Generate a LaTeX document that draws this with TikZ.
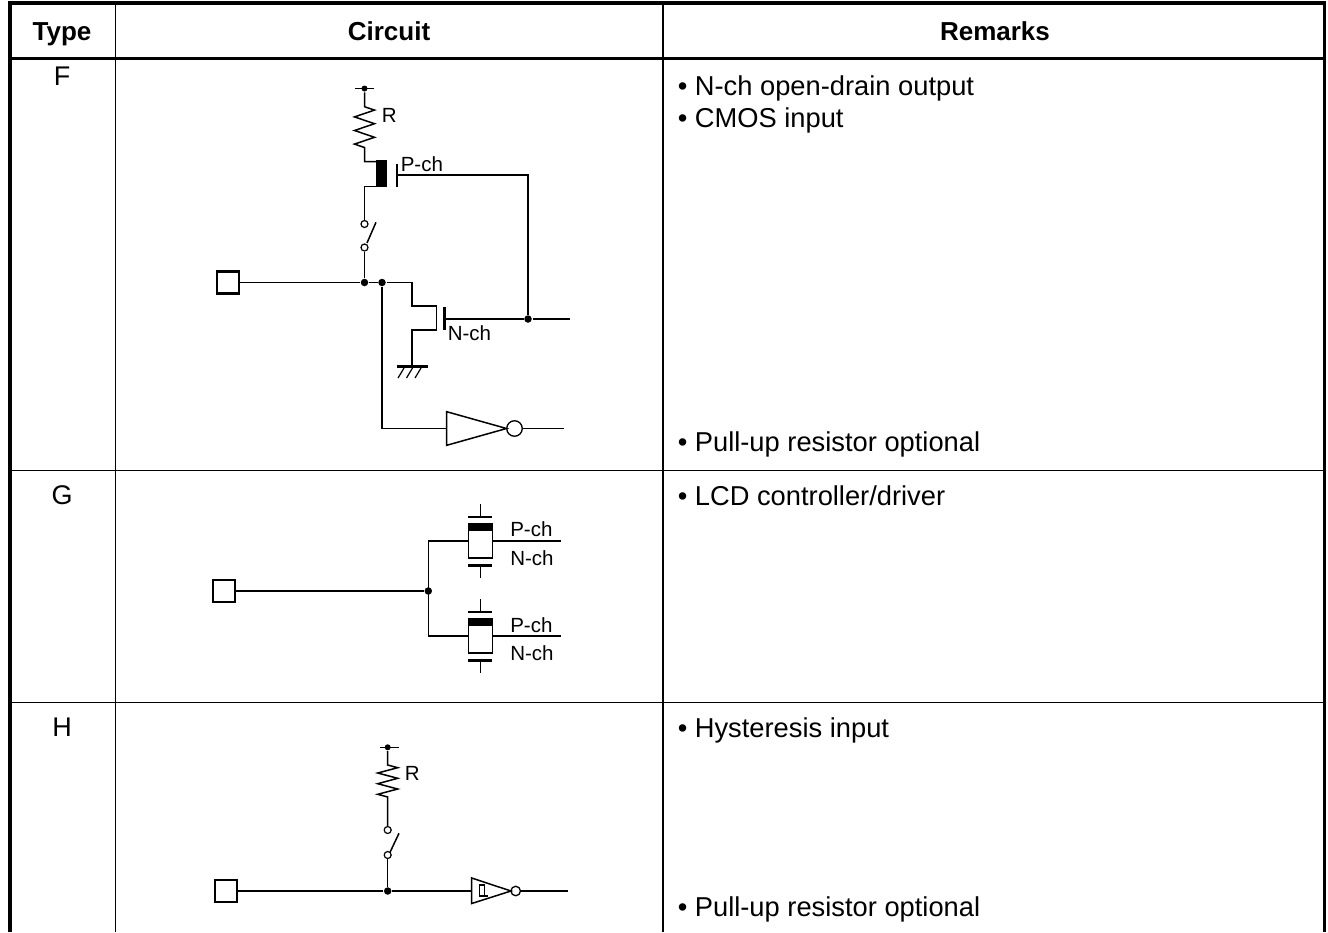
\documentclass[tikz,border=0pt]{standalone}
\usepackage{fontspec}
\setmainfont{Liberation Sans}
\begin{document}
\begin{tikzpicture}[x=1pt,y=-1pt,line width=1.5pt,
  hd/.style={font=\fontsize{26}{30}\selectfont\bfseries,anchor=base,inner sep=0pt},
  cell/.style={font=\fontsize{27}{30}\selectfont,anchor=base,inner sep=0pt},
  txt/.style={font=\fontsize{27.3}{30}\selectfont,anchor=base west,inner sep=0pt},
  lbl/.style={font=\fontsize{20.5}{22}\selectfont,anchor=base west,inner sep=0pt},
  pad/.style={draw,line width=2.6pt,minimum size=22pt,inner sep=0pt},
  dot/.style={circle,fill,inner sep=0pt,minimum size=7.5pt},
  ring/.style={circle,draw,fill=white,inner sep=0pt,minimum size=7pt,line width=1.2pt},
  bub/.style={circle,draw,inner sep=0pt,line width=1.3pt}]
  \useasboundingbox (0,0) rectangle (1328,932);

  % table
  \draw[line width=3.5pt] (10,932) -- (10,3) -- (1324.5,3) -- (1324.5,932);
  \draw[line width=3pt] (10,58) -- (1324.5,58);
  \foreach \x in {115.5,663}
    \draw (\x,3) -- (\x,932);
  \foreach \y in {470.7,702.7}
    \draw (10,\y) -- (1324.5,\y);

  \node[hd] (hT) at (62,40) {Type};
  \node[hd] (hC) at (389,40) {Circuit};
  \node[hd] (hR) at (995,40) {Remarks};
  \node[cell] (tF) at (62,85.5) {F};
  \node[cell] (tG) at (62,504.5) {G};
  \node[cell] (tH) at (62,736.5) {H};

  \node[txt] (rF1) at (677,95) {\textbullet\ N-ch open-drain output};
  \node[txt] (rF2) at (677,127) {\textbullet\ CMOS input};
  \node[txt] (rF3) at (677,451) {\textbullet\ Pull-up resistor optional};
  \node[txt] (rG1) at (677,505) {\textbullet\ LCD controller/driver};
  \node[txt] (rH1) at (677,737) {\textbullet\ Hysteresis input};
  \node[txt] (rH2) at (677,916) {\textbullet\ Pull-up resistor optional};

  % type F
  \node[pad] (pF) at (228,282.5) {};
  \node[dot] (jF1) at (364.5,282.5) {};
  \node[dot] (jF2) at (382,282.5) {};
  \node[dot] (jF3) at (528,319) {};
  \node[dot,minimum size=6pt] (vF) at (364.5,88.5) {};
  \node[ring] (sF1) at (364.5,224) {};
  \node[ring] (sF2) at (364.5,247.5) {};
  \node[bub,minimum size=15.5pt] (bF) at (514.5,428.5) {};
  \draw (355,88.5) -- (374,88.5);
  \draw (vF) -- (364.5,106.7) -- (374.5,110.1) -- (354.5,116.9) -- (374.5,123.7)
    -- (354.5,130.5) -- (374.5,137.3) -- (354.5,144.1) -- (364.5,147.5)
    -- (364.5,161.5) -- (376,161.5);
  \fill (375.5,160) rectangle (387.3,187.3);
  \draw (376,186.5) -- (364.5,186.5) -- (sF1);
  \draw[line width=2.6pt] (397,163.5) -- (397,186.5);
  \draw (397,175) -- (528,175) -- (jF3);
  \draw (367,243) -- (376,222.3);
  \draw (sF2) -- (jF1);
  \draw (pF) -- (jF1) -- (jF2) -- (412,282.5) -- (412,306) -- (436.5,306)
    -- (436.5,330) -- (412,330) -- (412,366.7);
  \draw[line width=2.6pt] (444.5,306.5) -- (444.5,330);
  \draw (444.5,319) -- (jF3) -- (569.5,319);
  \draw[line width=3pt] (396.7,366.7) -- (427.7,366.7);
  \foreach \x in {398,406.5,415}
    \draw[line width=1.2pt] ({\x+6},368) -- (\x,378);
  \draw (jF2) -- (382,428.5) -- (446.7,428.5);
  \draw (446.7,411.7) -- (446.7,445.3) -- (506.5,428.5) -- cycle;
  \draw (bF) -- (563.5,428.5);
  \node[lbl] (lRF) at (381,122) {R};
  \node[lbl] (lPF) at (400,171) {P-ch};
  \node[lbl] (lNF) at (447,340.5) {N-ch};

  % type G
  \node[pad] (pG) at (224,591) {};
  \node[dot] (jG) at (428.3,591) {};
  \draw (pG) -- (jG);
  \draw (428.3,541) -- (428.3,636);
  \foreach \y/\d [count=\i] in {541/5,636/4} {
    \draw (428.3,\y) -- (468.3,\y);
    \fill (468.3,{\y-17.5}) rectangle (492.3,{\y-10});
    \draw[line width=1.3pt] (468.3,{\y-17.5}) rectangle (492.3,{\y+17});
    \draw[line width=2.6pt] (468.3,{\y-24}) -- (492.3,{\y-24});
    \draw[line width=2.6pt] (468.3,{\y+24.5}) -- (492.3,{\y+24.5});
    \draw (480.3,{\y-24}) -- (480.3,{\y-37.5});
    \draw (480.3,{\y+24.5}) -- (480.3,{\y+36.5});
    \draw (492.3,\y) -- (560.7,\y);
    \node[lbl] (gP\i) at (509.5,{\y-\d}) {P-ch};
    \node[lbl] (gN\i) at (509.5,{\y+24}) {N-ch};
  }

  % type H
  \node[pad] (pH) at (226,891) {};
  \node[dot] (jH) at (387.7,891) {};
  \node[dot,minimum size=6pt] (vH) at (387.7,747.3) {};
  \node[ring] (sH1) at (387.7,830) {};
  \node[ring] (sH2) at (387.7,855) {};
  \node[bub,minimum size=9.5pt] (bH) at (515.7,891) {};
  \draw (380,747.3) -- (399,747.3);
  \draw (vH) -- (387.7,765) -- (397.7,767.7) -- (377.7,773) -- (397.7,778.3)
    -- (377.7,783.7) -- (397.7,789) -- (377.7,794.3) -- (387.7,797) -- (sH1);
  \draw (390,852.3) -- (399,833.3);
  \draw (sH2) -- (jH);
  \draw (pH) -- (jH) -- (471.7,891);
  \draw (471.7,878) -- (471.7,903.5) -- (511,891) -- cycle;
  \draw[line width=1.2pt] (479.3,885) -- (479.3,896) -- (488,896)
    (479.3,885) -- (484.3,885) -- (484.3,896);
  \draw (bH) -- (567.7,891);
  \node[lbl] (lRH) at (404,780) {R};
\end{tikzpicture}
\end{document}
